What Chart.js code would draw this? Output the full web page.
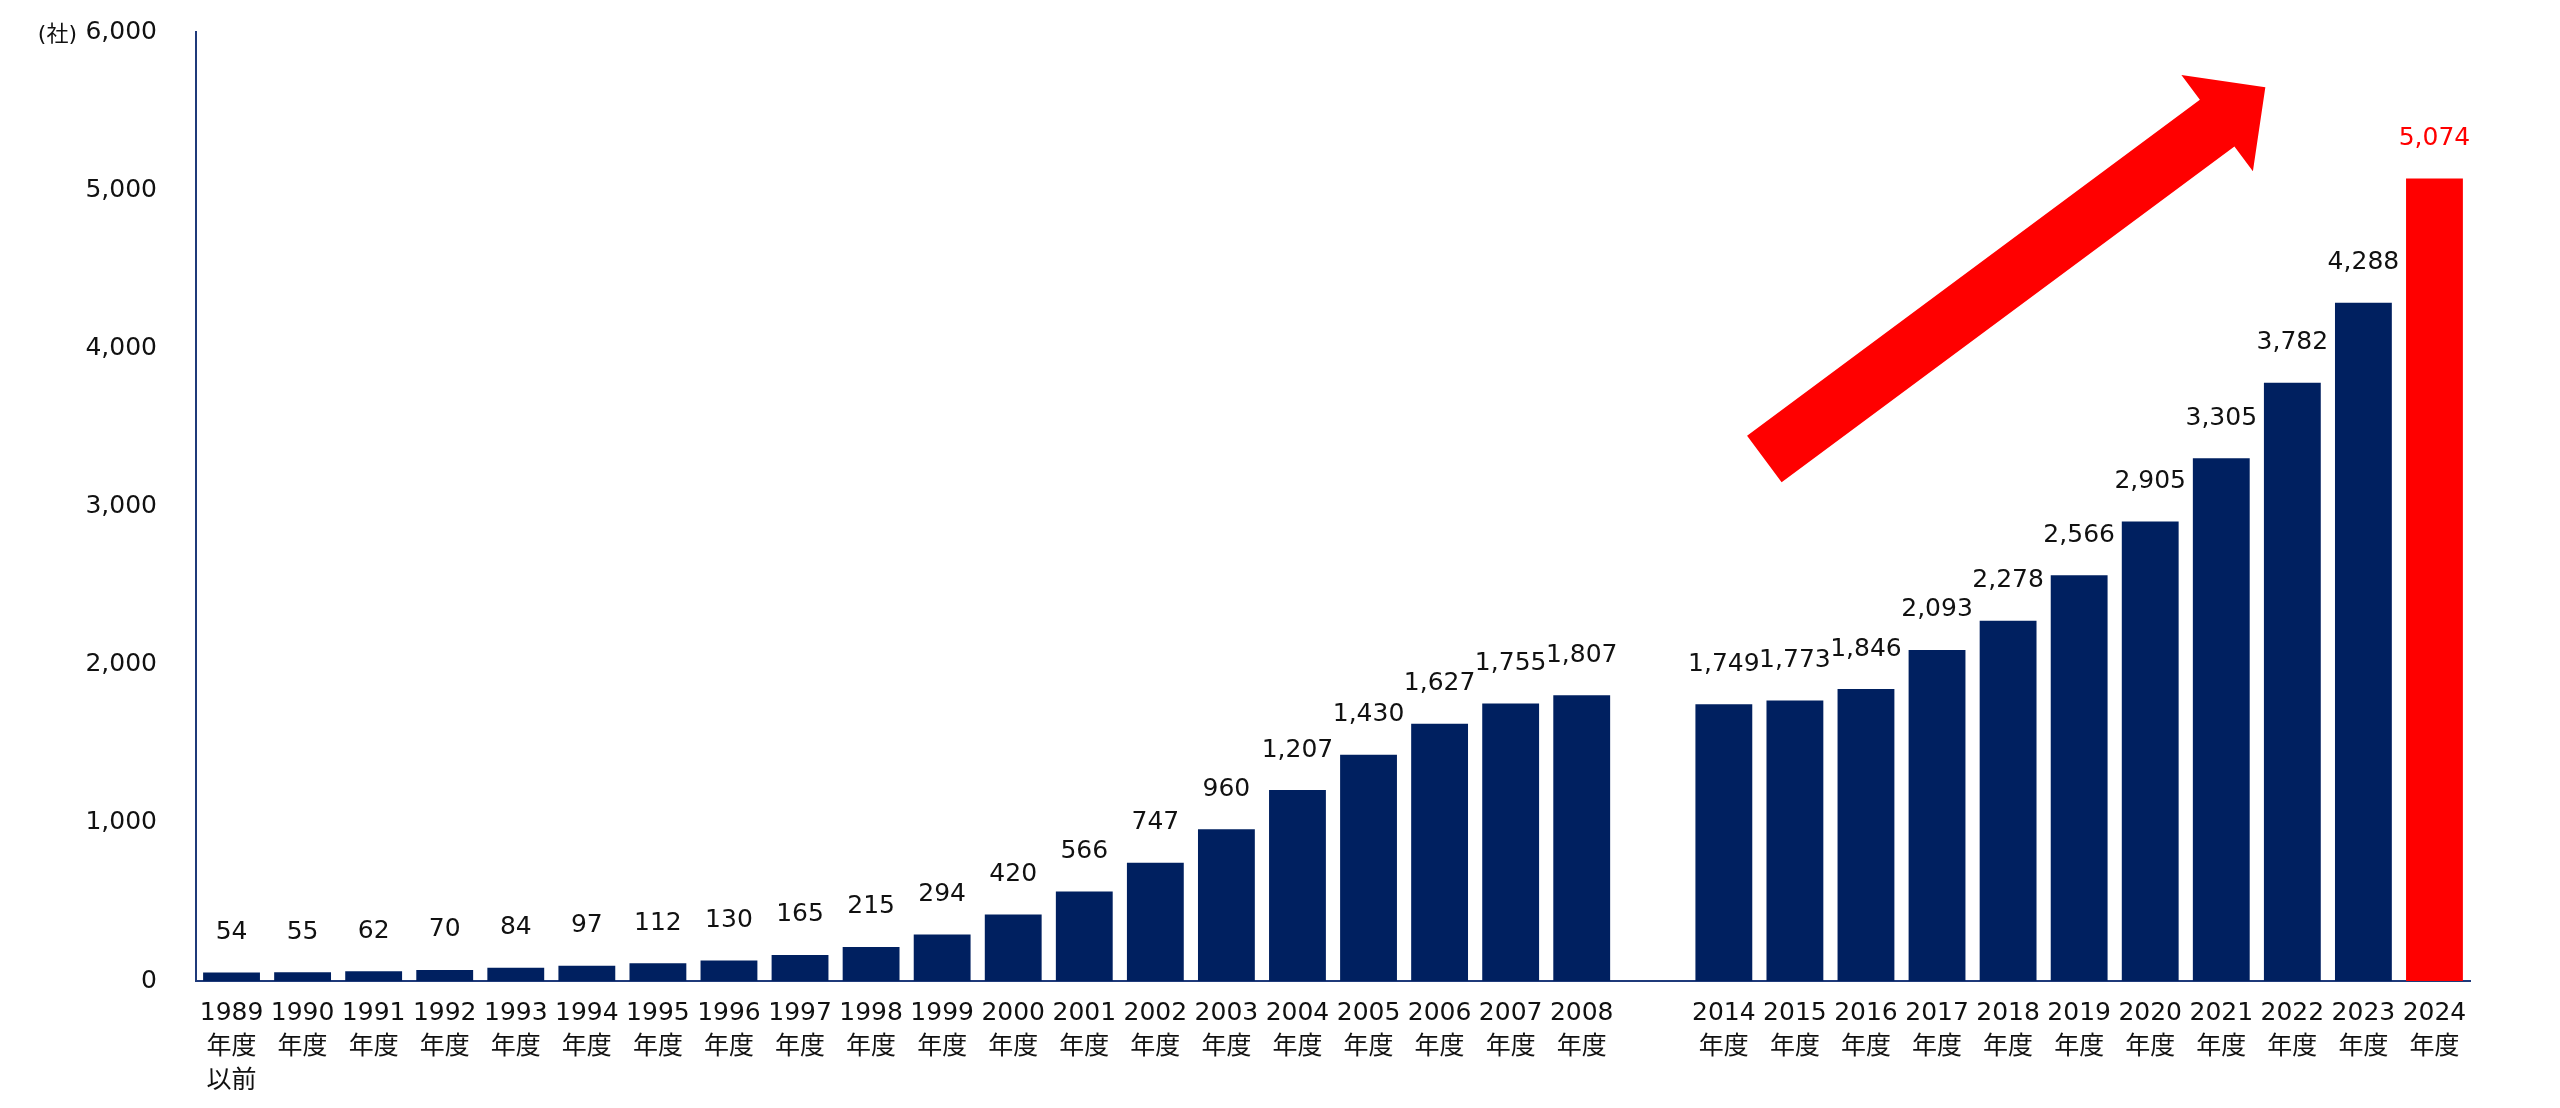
<!DOCTYPE html>
<html>
<head>
<meta charset="utf-8">
<script src="https://cdn.jsdelivr.net/npm/chart.js@4"></script>
<style>
  html, body { margin: 0; padding: 0; background: #fff; }
  canvas { display: block; }
</style>
</head>
<body>
<canvas id="myChart" width="2560" height="1108"></canvas>
<script>
// data
const years = ['1989', '1990', '1991', '1992', '1993', '1994', '1995', '1996', '1997', '1998',
               '1999', '2000', '2001', '2002', '2003', '2004', '2005', '2006', '2007', '2008',
               '',
               '2014', '2015', '2016', '2017', '2018', '2019', '2020', '2021', '2022', '2023', '2024'];
const companies = [54, 55, 62, 70, 84, 97, 112, 130, 165, 215,
                   294, 420, 566, 747, 960, 1207, 1430, 1627, 1755, 1807,
                   null,
                   1749, 1773, 1846, 2093, 2278, 2566, 2905, 3305, 3782, 4288, 5074];
const yTicks = [0, 1000, 2000, 3000, 4000, 5000, 6000];
const unitLabel = '(社)';

const navy = '#002060';
const red = '#ff0000';
const fontFam = '"DejaVu Sans", "Noto Sans CJK JP", sans-serif';

let labels = years.map((y, i) => {
    if (y === '') return '';
    if (i === 0) return [y, '年度', '以前'];
    return [y, '年度'];
});
let colors = years.map((y, i) => i === years.length - 1 ? red : navy);

// arrow drawn in scale units (category index, value)
const arrowFrom = { i: 21.57, v: 3300 };
const arrowTo = { i: 28.62, v: 5650 };

const valueLabels = {
    id: 'valueLabels',
    afterDatasetsDraw(chart) {
        const ctx = chart.ctx;
        const meta = chart.getDatasetMeta(0);
        ctx.save();
        ctx.font = '25px ' + fontFam;
        ctx.textAlign = 'center';
        ctx.textBaseline = 'middle';
        meta.data.forEach((bar, i) => {
            const v = companies[i];
            if (v === null) return;
            ctx.fillStyle = i === companies.length - 1 ? red : '#111';
            ctx.fillText(v.toLocaleString('en-US'), bar.x, bar.y - 40);
        });
        ctx.restore();
    }
};

const extras = {
    id: 'extras',
    afterDraw(chart) {
        const ctx = chart.ctx;
        const x = chart.scales.x;
        const y = chart.scales.y;
        // unit label
        ctx.save();
        ctx.font = '22px ' + fontFam;
        ctx.fillStyle = '#111';
        ctx.textAlign = 'right';
        ctx.textBaseline = 'middle';
        ctx.fillText(unitLabel, chart.chartArea.left - 119, y.getPixelForValue(6000) + 3);

        // big red arrow
        const step = x.getPixelForValue(1) - x.getPixelForValue(0);
        const tx = x.getPixelForValue(0) + arrowFrom.i * step;
        const ty = y.getPixelForValue(arrowFrom.v);
        const px = x.getPixelForValue(0) + arrowTo.i * step;
        const py = y.getPixelForValue(arrowTo.v);
        const len = Math.hypot(px - tx, py - ty);
        const ux = (px - tx) / len, uy = (py - ty) / len;
        const nx = -uy, ny = ux;
        const w = 29, hw = 60, hl = 60;
        const bx = px - ux * hl, by = py - uy * hl;
        ctx.fillStyle = red;
        ctx.beginPath();
        ctx.moveTo(tx + nx * w, ty + ny * w);
        ctx.lineTo(bx + nx * w, by + ny * w);
        ctx.lineTo(bx + nx * hw, by + ny * hw);
        ctx.lineTo(px, py);
        ctx.lineTo(bx - nx * hw, by - ny * hw);
        ctx.lineTo(bx - nx * w, by - ny * w);
        ctx.lineTo(tx - nx * w, ty - ny * w);
        ctx.closePath();
        ctx.fill();
        ctx.restore();
    }
};

const data = {
    labels: labels,
    datasets: [{
        data: companies,
        backgroundColor: colors,
        borderWidth: 0,
        categoryPercentage: 1.0,
        barPercentage: 0.8
    }]
};

const config = {
    type: 'bar',
    data: data,
    options: {
        responsive: false,
        devicePixelRatio: 1,
        animation: false,
        layout: { padding: { top: 32, right: 90, left: 0, bottom: 0 } },
        plugins: {
            legend: { display: false },
            tooltip: { enabled: false }
        },
        scales: {
            x: {
                grid: { display: false, drawTicks: false },
                border: { display: true, color: '#1f3a7a', width: 2 },
                ticks: {
                    color: '#111',
                    font: { family: fontFam, size: 25, lineHeight: 1.36 },
                    padding: 15,
                    maxRotation: 0,
                    autoSkip: false
                },
                afterFit(scale) { scale.height = 127; }
            },
            y: {
                min: 0,
                max: 6000,
                afterBuildTicks(scale) { scale.ticks = yTicks.map(v => ({ value: v })); },
                grid: { display: false, drawTicks: false },
                border: { display: true, color: '#1f3a7a', width: 2 },
                ticks: {
                    color: '#111',
                    font: { family: fontFam, size: 25 },
                    padding: 39,
                    callback: v => v.toLocaleString('en-US')
                },
                afterFit(scale) {
                    scale.width = 196;
                    // tick padding would otherwise push the plot top down
                    scale.paddingTop = 0;
                    scale.paddingBottom = 0;
                }
            }
        }
    },
    plugins: [valueLabels, extras]
};

let myChart = new Chart(document.getElementById('myChart'), config);
</script>
</body>
</html>
